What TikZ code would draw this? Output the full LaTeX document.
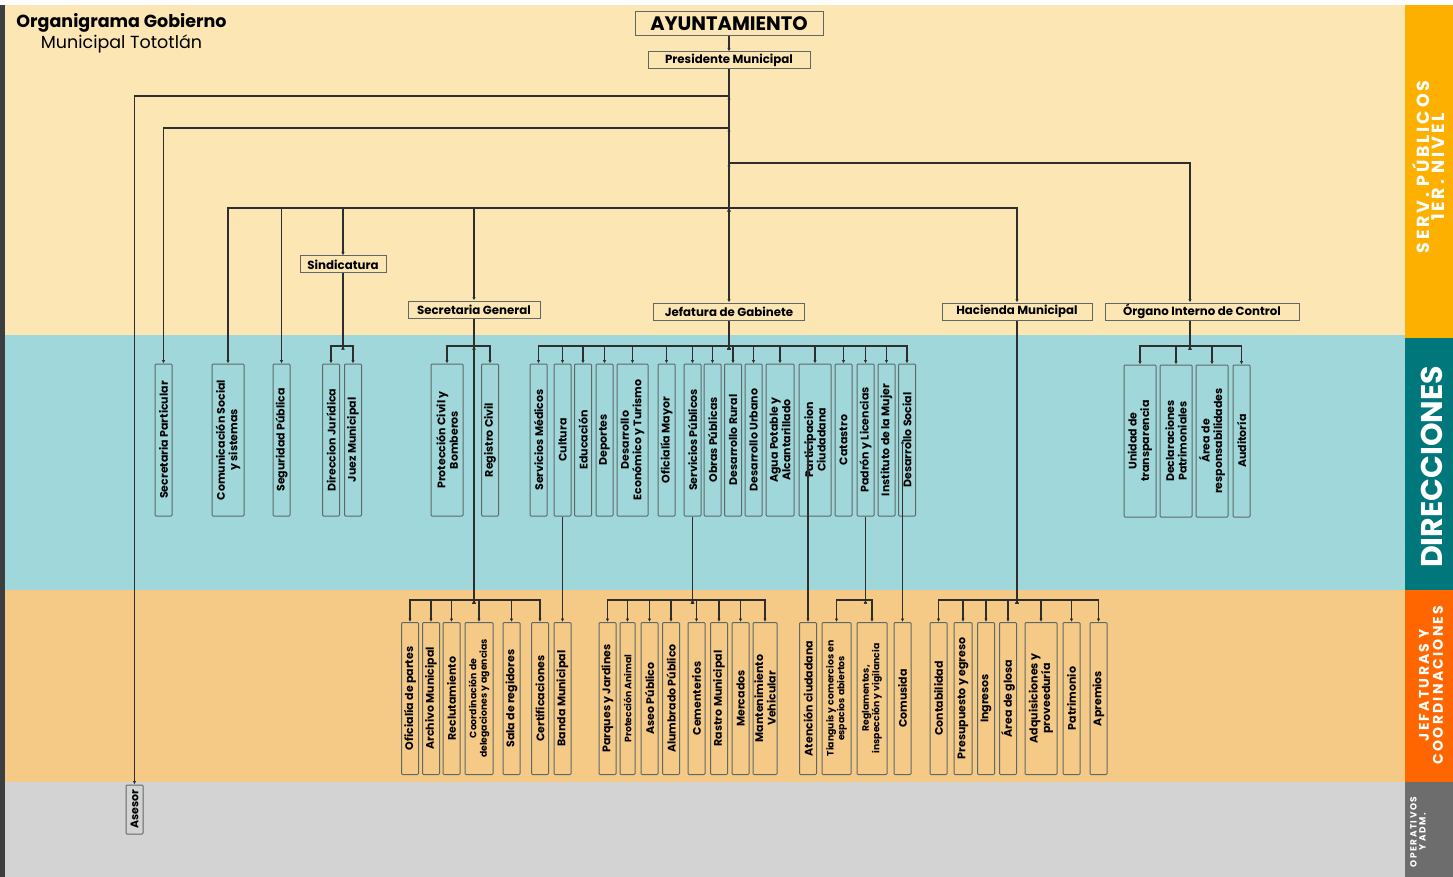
\documentclass[tikz,border=0pt]{standalone}
\usepackage{fontspec}
\setmainfont{Poppins}
\newfontfamily\sidefont{Poppins}[LetterSpace=16]
\usetikzlibrary{arrows.meta}
\definecolor{cream}{HTML}{FCE6B4}
\definecolor{aqua}{HTML}{A0D7DA}
\definecolor{peach}{HTML}{F5CA87}
\definecolor{ash}{HTML}{D3D3D3}
\definecolor{amber}{HTML}{FDB000}
\definecolor{sea}{HTML}{00777A}
\definecolor{flame}{HTML}{FF6600}
\definecolor{slate}{HTML}{6D6D6D}
\definecolor{edgecol}{HTML}{3C3E40}
\definecolor{boxline}{HTML}{5E6866}
\definecolor{linecol}{HTML}{2E2E2E}
\tikzset{
  head/.style={draw=boxline, line width=1pt, inner sep=0pt, minimum height=17pt, font=\bfseries\fontsize{11.8}{12}\selectfont},
  dir/.style={draw=boxline, line width=1pt, rounded corners=1pt, rotate=90, inner sep=0pt, minimum width=152pt, minimum height=17pt, align=center, font=\bfseries\fontsize{11}{12.5}\selectfont},
  dirw/.style={dir, minimum height=32pt},
  small/.style={font=\bfseries\fontsize{9.3}{10.5}\selectfont},
  side/.style={rotate=90, text=white, align=center, inner sep=0pt},
  link/.style={draw=linecol, line width=1.4pt},
  arr/.style={link, -{Latex[length=3.5pt,width=3.5pt]}},
  elbow/.style={to path={-| (\tikztotarget)}}
}
\begin{document}
\begin{tikzpicture}[x=1pt, y=-1pt]
\useasboundingbox (0,0) rectangle (1453,877);
% bands
\fill[white] (0,0) rectangle (1453,877);
\fill[edgecol] (0,5) rectangle (5,877);
\fill[cream] (5,5) rectangle (1405,335);
\fill[aqua] (5,335) rectangle (1405,590);
\fill[peach] (5,590) rectangle (1405,782);
\fill[ash] (5,782) rectangle (1405,877);
\fill[amber] (1405,5) rectangle (1453,338);
\fill[sea] (1405,338) rectangle (1453,590);
\fill[flame] (1405,590) rectangle (1453,782);
\fill[slate] (1405,782) rectangle (1453,877);
\node[side, font=\sidefont\bfseries\fontsize{17.5}{15}\selectfont] (lserv) at (1429,167) {SERV. PÚBLICOS\\1ER. NIVEL};
\node[side, font=\bfseries\fontsize{30}{30}\selectfont] (ldir) at (1432,467) {DIRECCIONES};
\node[side, font=\sidefont\bfseries\fontsize{14}{14}\selectfont] (ljef) at (1431,685) {JEFATURAS Y\\COORDINACIONES};
\node[side, font=\sidefont\bfseries\fontsize{9}{9}\selectfont] (lope) at (1418,832) {OPERATIVOS\\Y ADM.};
\node[align=center, inner sep=0pt, font=\fontsize{17.5}{21}\selectfont] (title) at (121.5,33) {\textbf{Organigrama Gobierno}\\Municipal Tototlán};
% first level
\node[head, minimum width=188pt, minimum height=24pt, font=\bfseries\fontsize{19.5}{20}\selectfont] (ayun) at (729,24) {AYUNTAMIENTO};
\node[head, minimum width=162pt] (pres) at (729,60.5) {Presidente Municipal};
\node[head, minimum width=86pt] (sind) at (343,264.5) {Sindicatura};
\node[head, minimum width=132pt] (secgen) at (474,309.5) {Secretaria General};
\node[head, minimum width=151pt] (jgab) at (729,311.5) {Jefatura de Gabinete};
\node[head, minimum width=150pt] (hac) at (1017,311.5) {Hacienda Municipal};
\node[head, minimum width=194pt] (oic) at (1202,311.5) {Órgano Interno de Control};
% direcciones
\node[dir] (secpart) at (163.5,440) {Secretaria Particular};
\node[dirw] (comsoc) at (228,440) {Comunicación Social\\y sistemas};
\node[dir] (segpub) at (281.5,440) {Seguridad Pública};
\node[dir] (djur) at (331,440) {Direccion Jurídica};
\node[dir] (juez) at (353,440) {Juez Municipal};
\node[dirw] (pcivil) at (447,440) {Protección Civil y\\Bomberos};
\node[dir] (regciv) at (490,440) {Registro Civil};
\node[dir] (smed) at (538.5,440) {Servicios Médicos};
\node[dir] (cultura) at (562.5,440) {Cultura};
\node[dir] (educ) at (583,440) {Educación};
\node[dir] (deport) at (604.5,440) {Deportes};
\node[dir, minimum height=31pt] (deseco) at (632.5,440) {Desarrollo\\Económico y Turismo};
\node[dir] (ofmay) at (666.5,440) {Oficialía Mayor};
\node[dir] (servpub) at (692.5,440) {Servicios Públicos};
\node[dir] (obras) at (712.5,440) {Obras Públicas};
\node[dir] (desrur) at (733,440) {Desarrollo Rural};
\node[dir] (desurb) at (753.5,440) {Desarrollo Urbano};
\node[dir, minimum height=28pt] (agua) at (780,440) {Agua Potable y\\Alcantarillado};
\node[dirw] (partic) at (815,440) {Participacion\\Ciudadana};
\node[dir] (catas) at (843.5,440) {Catastro};
\node[dir] (padron) at (865.5,440) {Padrón y Licencias};
\node[dir] (mujer) at (886.5,440) {Instituto de la Mujer};
\node[dir] (dsocial) at (907,440) {Desarrollo Social};
\node[dirw] (transp) at (1140,441) {Unidad de\\transparencia};
\node[dirw] (declar) at (1176,441) {Declaraciones\\Patrimoniales};
\node[dirw] (resp) at (1212,441) {Área de\\responsabilidades};
\node[dir] (audit) at (1241.5,441) {Auditoría};
% jefaturas y coordinaciones
\node[dir] (ofpar) at (410,698.5) {Oficialía de partes};
\node[dir] (archivo) at (431,698.5) {Archivo Municipal};
\node[dir] (reclut) at (451.5,698.5) {Reclutamiento};
\node[dir, small, minimum height=28pt] (coord) at (479,698.5) {Coordinación de\\delegaciones y agencias};
\node[dir] (sala) at (511.5,698.5) {Sala de regidores};
\node[dir] (certif) at (540,698.5) {Certificaciones};
\node[dir] (banda) at (562.5,698.5) {Banda Municipal};
\node[dir] (parques) at (607.5,698.5) {Parques y Jardines};
\node[dir, small, minimum height=15pt] (panimal) at (627.5,698.5) {Protección Animal};
\node[dir] (aseo) at (649.5,698.5) {Aseo Público};
\node[dir] (alumb) at (671,698.5) {Alumbrado Público};
\node[dir] (cement) at (696.5,698.5) {Cementerios};
\node[dir] (rastro) at (719,698.5) {Rastro Municipal};
\node[dir] (merc) at (740.5,698.5) {Mercados};
\node[dir, minimum height=24pt] (mantto) at (765,698.5) {Mantenimiento\\Vehicular};
\node[dir] (atenc) at (808,698.5) {Atención ciudadana};
\node[dir, small, minimum height=29pt] (tiang) at (836.5,698.5) {Tianguis y comercios en\\espacios abiertos};
\node[dir, small, minimum height=30pt] (regl) at (872,698.5) {Reglamentos,\\inspección y vigilancia};
\node[dir] (comus) at (902.5,698.5) {Comusida};
\node[dir] (contab) at (938.5,698.5) {Contabilidad};
\node[dir, minimum height=18pt] (presup) at (963,698.5) {Presupuesto y egreso};
\node[dir] (ingr) at (986,698.5) {Ingresos};
\node[dir] (glosa) at (1008,698.5) {Área de glosa};
\node[dirw] (adquis) at (1041,698.5) {Adquisiciones y\\proveeduría};
\node[dir] (patrim) at (1071.5,698.5) {Patrimonio};
\node[dir] (aprem) at (1098.5,698.5) {Apremios};
\node[dir, minimum width=49pt] (asesor) at (134.5,809.5) {Asesor};
% junctions
\coordinate (b96) at (729,96);
\coordinate (b128) at (729,128);
\coordinate (b163) at (729,163);
\coordinate (b208) at (729,208);
\coordinate (sbus) at (343,346);
\coordinate (sgd) at (474,346);
\coordinate (sgbus) at (474,600);
\coordinate (jbus) at (729,346);
\coordinate (spbus) at (692.5,600);
\coordinate (pbus) at (865.5,600);
\coordinate (hbus) at (1017,600);
\coordinate (obus) at (1190,346);
% connectors
\path [arr] (ayun) edge (pres);
\path [arr] (pres) edge (jgab);
\path [arr] (b96) edge[elbow] (asesor);
\path [arr] (b128) edge[elbow] (secpart);
\path [arr] (b163) edge[elbow] ([xshift=-12pt]oic.north);
\path [arr] (b208) edge[elbow] (comsoc);
\path [arr] (b208) edge[elbow] (segpub);
\path [arr] (b208) edge[elbow] (sind);
\path [arr] (b208) edge[elbow] (secgen);
\path [arr] (b208) edge[elbow] (hac);
\path [link] (sind) edge (sbus);
\path [arr] (sbus) edge[elbow] (djur);
\path [arr] (sbus) edge[elbow] (juez);
\path [link] (secgen) edge (sgbus);
\path [arr] (sgd) edge[elbow] (pcivil);
\path [arr] (sgd) edge[elbow] (regciv);
\path [link] (jgab) edge (jbus);
\path [arr] (jbus) edge[elbow] (smed);
\path [arr] (jbus) edge[elbow] (cultura);
\path [arr] (jbus) edge[elbow] (educ);
\path [arr] (jbus) edge[elbow] (deport);
\path [arr] (jbus) edge[elbow] (deseco);
\path [arr] (jbus) edge[elbow] (ofmay);
\path [arr] (jbus) edge[elbow] (servpub);
\path [arr] (jbus) edge[elbow] (obras);
\path [arr] (jbus) edge[elbow] (desrur);
\path [arr] (jbus) edge[elbow] (desurb);
\path [arr] (jbus) edge[elbow] (agua);
\path [arr] (jbus) edge[elbow] (partic);
\path [arr] (jbus) edge[elbow] (catas);
\path [arr] (jbus) edge[elbow] (padron);
\path [arr] (jbus) edge[elbow] (mujer);
\path [arr] (jbus) edge[elbow] (dsocial);
\path [link] ([xshift=-12pt]oic.south) edge (obus);
\path [arr] (obus) edge[elbow] (transp);
\path [arr] (obus) edge[elbow] (declar);
\path [arr] (obus) edge[elbow] (resp);
\path [arr] (obus) edge[elbow] (audit);
\path [arr] (sgbus) edge[elbow] (ofpar);
\path [arr] (sgbus) edge[elbow] (archivo);
\path [arr] (sgbus) edge[elbow] (reclut);
\path [arr] (sgbus) edge[elbow] (coord);
\path [arr] (sgbus) edge[elbow] (sala);
\path [arr] (sgbus) edge[elbow] (certif);
\path [arr] (cultura) edge (banda);
\path [link] (servpub) edge (spbus);
\path [arr] (spbus) edge[elbow] (parques);
\path [arr] (spbus) edge[elbow] (panimal);
\path [arr] (spbus) edge[elbow] (aseo);
\path [arr] (spbus) edge[elbow] (alumb);
\path [arr] (spbus) edge[elbow] (cement);
\path [arr] (spbus) edge[elbow] (rastro);
\path [arr] (spbus) edge[elbow] (merc);
\path [arr] (spbus) edge[elbow] (mantto);
\path [arr] (atenc |- partic.south) edge (atenc);
\path [link] (padron) edge (pbus);
\path [arr] (pbus) edge[elbow] (tiang);
\path [arr] (pbus) edge[elbow] (regl);
\path [arr] (comus |- dsocial.south) edge (comus);
\path [link] (hac) edge (hbus);
\path [arr] (hbus) edge[elbow] (contab);
\path [arr] (hbus) edge[elbow] (presup);
\path [arr] (hbus) edge[elbow] (ingr);
\path [arr] (hbus) edge[elbow] (glosa);
\path [arr] (hbus) edge[elbow] (adquis);
\path [arr] (hbus) edge[elbow] (patrim);
\path [arr] (hbus) edge[elbow] (aprem);
\end{tikzpicture}
\end{document}
